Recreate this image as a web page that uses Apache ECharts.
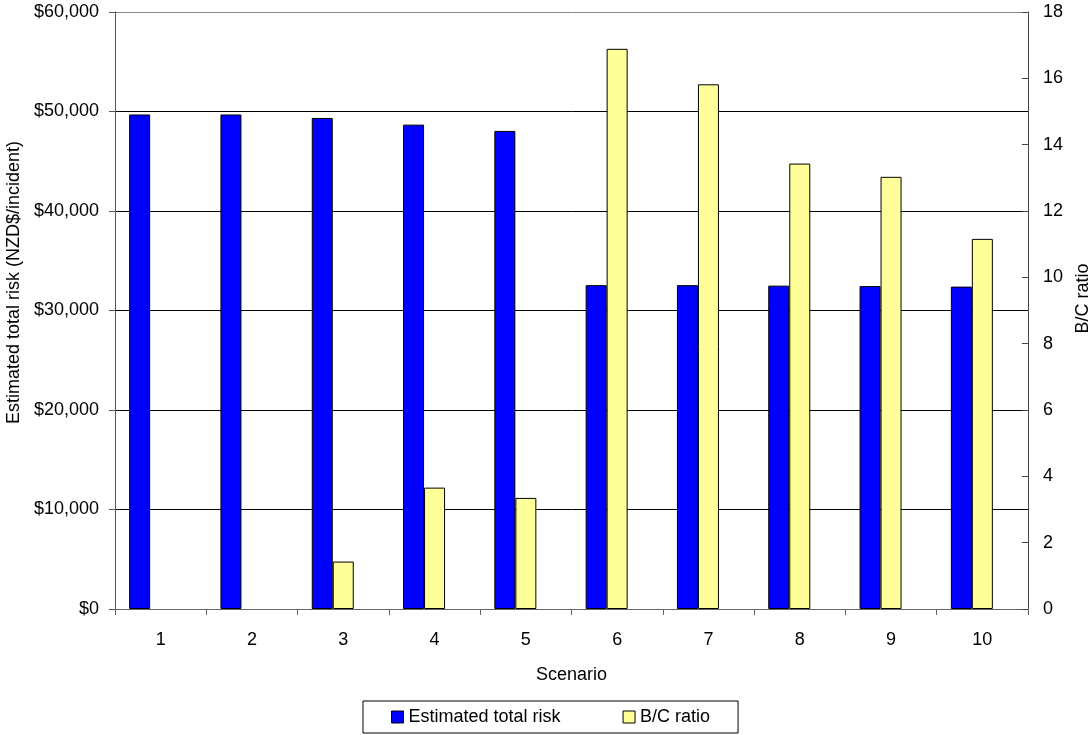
<!DOCTYPE html>
<html>
<head>
<meta charset="utf-8">
<title>Estimated total risk and B/C ratio by scenario</title>
<script src="https://cdn.jsdelivr.net/npm/echarts@6/dist/echarts.min.js"></script>
<style>
  html, body { margin: 0; padding: 0; background: #fff; }
  #chart { width: 1092px; height: 735px; }
</style>
</head>
<body>
<div id="chart"></div>
<script>
// Scenario numbers along the category axis
const scenarios = ['1', '2', '3', '4', '5', '6', '7', '8', '9', '10'];
// Estimated total risk per scenario (NZD$ per incident)
const totalRisk = [49700, 49700, 49350, 48680, 48050, 32550, 32550, 32500, 32450, 32400];
// Benefit/cost ratio per scenario (none for scenarios 1 and 2)
const bcRatio = [null, null, 1.43, 3.66, 3.35, 16.89, 15.82, 13.43, 13.03, 11.16];
// Series names shown in the legend
const seriesNames = ['Estimated total risk', 'B/C ratio'];

const FONT = "'Liberation Sans', Arial, sans-serif";
const TXT = { fontFamily: FONT, fontSize: 18, color: '#000' };

function dollars(v) {
  return '$' + v.toLocaleString('en-US');
}

const chart = echarts.init(document.getElementById('chart'), null, { renderer: 'canvas' });

chart.setOption({
  animation: false,
  backgroundColor: '#fff',
  textStyle: { fontFamily: FONT },
  grid: {
    left: 115, right: 64, top: 12, bottom: 126,
    containLabel: false,
    outerBoundsMode: 'none'
  },
  legend: {
    data: seriesNames,
    left: 363,
    top: 701,
    orient: 'horizontal',
    icon: 'rect',
    itemWidth: 12,
    itemHeight: 12,
    itemGap: 62,
    padding: [7, 28, 7, 28],
    borderColor: '#000',
    borderWidth: 1,
    textStyle: Object.assign({}, TXT),
    itemStyle: { borderColor: '#000', borderWidth: 1 }
  },
  xAxis: {
    type: 'category',
    data: scenarios,
    boundaryGap: true,
    name: 'Scenario',
    nameLocation: 'middle',
    nameGap: 57,
    nameTextStyle: Object.assign({}, TXT),
    axisLine: { show: true, lineStyle: { color: '#666', width: 1 } },
    axisTick: { show: true, inside: false, length: 6, alignWithLabel: false, lineStyle: { color: '#666' } },
    axisLabel: Object.assign({ margin: 22 }, TXT),
    splitLine: { show: false }
  },
  yAxis: [
    {
      type: 'value',
      min: 0,
      max: 60000,
      interval: 10000,
      position: 'left',
      name: 'Estimated total risk (NZD$/incident)',
      nameLocation: 'middle',
      nameGap: 85,
      nameRotate: 90,
      // title sits a little above the plot's vertical centre
      nameTextStyle: Object.assign({}, TXT, { padding: [0, 0, 0, 56] }),
      axisLine: { show: true, lineStyle: { color: '#555', width: 1 } },
      axisTick: { show: true, inside: false, length: 6, lineStyle: { color: '#555' } },
      axisLabel: Object.assign({ margin: 16, formatter: dollars }, TXT),
      splitLine: {
        show: true,
        lineStyle: { color: ['#000', '#000', '#000', '#000', '#000', '#000', '#888'], width: 1 }
      }
    },
    {
      type: 'value',
      min: 0,
      max: 18,
      interval: 2,
      position: 'right',
      name: 'B/C ratio',
      nameLocation: 'middle',
      nameGap: 42,
      nameRotate: 90,
      nameTextStyle: Object.assign({}, TXT, { padding: [0, 0, 0, 24] }),
      axisLine: { show: true, lineStyle: { color: '#444', width: 1 } },
      axisTick: { show: true, inside: true, length: 6, lineStyle: { color: '#444' } },
      axisLabel: Object.assign({ margin: 15 }, TXT),
      splitLine: { show: false }
    }
  ],
  series: [
    {
      name: seriesNames[0],
      type: 'bar',
      yAxisIndex: 0,
      data: totalRisk,
      barWidth: 21,
      barGap: '0%',
      itemStyle: { color: '#0000FF', borderColor: '#000', borderWidth: 1 }
    },
    {
      name: seriesNames[1],
      type: 'bar',
      yAxisIndex: 1,
      data: bcRatio,
      barWidth: 21,
      barGap: '0%',
      itemStyle: { color: '#FFFF99', borderColor: '#000', borderWidth: 1 }
    },
    {
      // empty third slot keeps the bar pair offset within each category
      name: 'spacer',
      type: 'bar',
      yAxisIndex: 1,
      data: [],
      barWidth: 21,
      barGap: '0%',
      silent: true
    }
  ]
});
</script>
</body>
</html>
